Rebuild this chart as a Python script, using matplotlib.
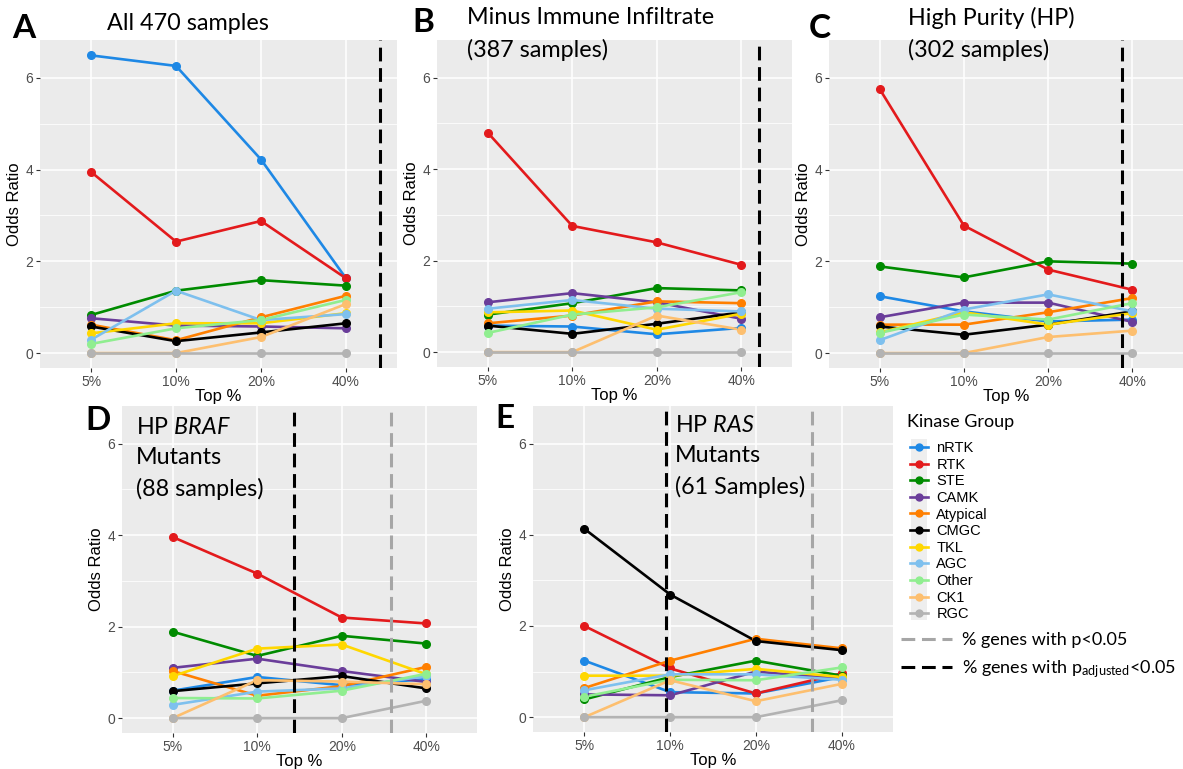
import numpy as np
import matplotlib.pyplot as plt
from matplotlib.lines import Line2D
from matplotlib.patches import Rectangle

plt.rcParams['font.family'] = ['Liberation Sans', 'DejaVu Sans']
plt.rcParams['mathtext.fontset'] = 'custom'
plt.rcParams['mathtext.rm'] = 'Lato'
plt.rcParams['mathtext.it'] = 'Lato:italic'

# Данные
top_labels = ['5%', '10%', '20%', '40%']
groups = ['nRTK', 'RTK', 'STE', 'CAMK', 'Atypical', 'CMGC', 'TKL', 'AGC', 'Other', 'CK1', 'RGC']
colors = ['#1E88E5', '#E31A1C', '#008B00', '#6A3D9A', '#FF7F00', '#000000',
          '#FFD700', '#7EC0EE', '#90EE90', '#FDBF6F', '#B3B3B3']

# odds ratio, one row per kinase group (same order as groups)
odds_all = [[6.49, 6.26, 4.22, 1.63], [3.95, 2.43, 2.88, 1.63], [0.83, 1.36, 1.59, 1.47],
            [0.76, 0.60, 0.58, 0.54], [0.62, 0.28, 0.78, 1.25], [0.58, 0.26, 0.45, 0.65],
            [0.43, 0.65, 0.65, 0.87], [0.29, 1.36, 0.72, 0.85], [0.20, 0.54, 0.72, 1.16],
            [0.00, 0.00, 0.35, 1.07], [0.00, 0.00, 0.00, 0.00]]
odds_minus = [[0.58, 0.56, 0.39, 0.53], [4.80, 2.76, 2.40, 1.91], [0.82, 1.07, 1.40, 1.35],
              [1.09, 1.29, 1.09, 0.73], [0.63, 0.80, 1.11, 1.07], [0.58, 0.40, 0.62, 0.87],
              [0.87, 0.91, 0.49, 0.84], [0.95, 1.14, 0.95, 0.89], [0.42, 0.82, 0.98, 1.31],
              [0.00, 0.00, 0.80, 0.49], [0.00, 0.00, 0.00, 0.00]]
odds_hp = [[1.24, 0.91, 0.69, 0.73], [5.76, 2.78, 1.82, 1.38], [1.89, 1.65, 2.00, 1.95],
           [0.78, 1.10, 1.10, 0.68], [0.62, 0.62, 0.89, 1.20], [0.58, 0.40, 0.62, 0.91],
           [0.45, 0.89, 0.62, 0.87], [0.28, 0.95, 1.28, 0.91], [0.44, 0.84, 0.73, 1.09],
           [0.00, 0.00, 0.35, 0.49], [0.00, 0.00, 0.00, 0.00]]
odds_braf = [[0.60, 0.90, 0.72, 0.85], [3.96, 3.16, 2.20, 2.07], [1.89, 1.36, 1.80, 1.63],
             [1.10, 1.30, 1.03, 0.79], [1.03, 0.49, 0.70, 1.12], [0.59, 0.76, 0.92, 0.65],
             [0.92, 1.52, 1.61, 0.96], [0.29, 0.58, 0.65, 0.92], [0.44, 0.43, 0.60, 0.97],
             [0.00, 0.83, 0.80, 0.74], [0.00, 0.00, 0.00, 0.38]]
odds_ras = [[1.24, 0.55, 0.52, 0.88], [2.00, 1.07, 0.52, 0.96], [0.39, 0.88, 1.24, 0.91],
            [0.50, 0.48, 1.00, 0.84], [0.64, 1.24, 1.72, 1.51], [4.13, 2.69, 1.67, 1.47],
            [0.91, 0.91, 1.06, 0.88], [0.59, 0.94, 0.94, 0.82], [0.45, 0.82, 0.81, 1.09],
            [0.00, 0.81, 0.35, 0.73], [0.00, 0.00, 0.00, 0.37]]

# положение пунктирных линий (в единицах оси x)
padj_cut = [4.40, 4.21, 3.88, 2.43, 1.95]
p_cut = [None, None, None, 3.58, 3.65]

W, H = 1183, 769
fig = plt.figure(figsize=(W / 100, H / 100), dpi=100)


def box(l, t, r, b):
    return [l / W, 1 - b / H, (r - l) / W, (b - t) / H]


boxes = [box(40, 40, 397, 368), box(437, 40, 792, 367), box(829, 40, 1183, 368),
         box(122, 406, 477, 733), box(533, 406, 893, 732)]
datasets = [odds_all, odds_minus, odds_hp, odds_braf, odds_ras]
x = np.arange(1, 5)
dash = (0, (4.5, 2.2))

handles = []
for i, (rect, data) in enumerate(zip(boxes, datasets)):
    ax = fig.add_axes(rect)
    ax.set_facecolor('#EBEBEB')
    for s in ax.spines.values():
        s.set_visible(False)
    ax.set_xlim(0.4, 4.6)
    ax.set_ylim(-0.325, 6.825)
    ax.set_xticks(x)
    ax.set_xticklabels(top_labels)
    ax.set_yticks([0, 2, 4, 6])
    ax.set_yticks([1, 3, 5], minor=True)
    ax.grid(True, which='major', color='white', lw=1.1)
    ax.grid(True, which='minor', axis='y', color='white', lw=0.55)
    ax.set_axisbelow(True)
    ax.tick_params(which='major', length=3, width=0.8, color='#333333',
                   labelsize=10, labelcolor='#4D4D4D', pad=2)
    ax.tick_params(which='minor', length=0)
    ax.set_xlabel('Top %', fontsize=12, labelpad=0)
    ax.set_ylabel('Odds Ratio', fontsize=12, labelpad=2)

    # сначала линии, потом точки
    for vals, c in zip(data, colors):
        ax.plot(x, vals, color=c, lw=1.9, zorder=3)
    for vals, c in zip(data, colors):
        ax.plot(x, vals, 'o', color=c, ms=5.5, zorder=4)

    ax.axvline(padj_cut[i], color='black', lw=2.2, ls=dash, zorder=5)
    if p_cut[i] is not None:
        ax.axvline(p_cut[i], color='#A6A6A6', lw=2.2, ls=dash, zorder=5)

for g, c in zip(groups, colors):
    handles.append(Line2D([], [], color=c, marker='o', lw=1.9, ms=5, label=g))

# буквы панелей и заголовки
tfont = 'Lato'
for lab, (px, py) in zip('ABCDE', [(24, 29), (423, 23), (820, 29), (98, 420), (505, 418)]):
    fig.text(px / W, 1 - py / H, lab, fontsize=24, fontweight='bold', family=tfont,
             ha='center', va='center')

ts = 16.8
fig.text(107 / W, 1 - 24 / H, 'All 470 samples', fontsize=ts, family=tfont, va='center')
fig.text(467 / W, 1 - 18 / H, 'Minus Immune Infiltrate', fontsize=ts, family=tfont, va='center')
fig.text(467 / W, 1 - 50 / H, '(387 samples)', fontsize=ts, family=tfont, va='center')
fig.text(908 / W, 1 - 18 / H, 'High Purity (HP)', fontsize=ts, family=tfont, va='center')
fig.text(908 / W, 1 - 50 / H, '(302 samples)', fontsize=ts, family=tfont, va='center')

fig.text(136 / W, 1 - 427 / H, r'HP $\mathit{BRAF}$', fontsize=ts, family=tfont, va='center')
fig.text(136 / W, 1 - 458 / H, 'Mutants', fontsize=ts, family=tfont, va='center')
fig.text(136 / W, 1 - 489 / H, '(88 samples)', fontsize=ts, family=tfont, va='center')
fig.text(675 / W, 1 - 425 / H, r'HP $\mathit{RAS}$', fontsize=ts, family=tfont, va='center')
fig.text(675 / W, 1 - 456 / H, 'Mutants', fontsize=ts, family=tfont, va='center')
fig.text(675 / W, 1 - 487 / H, '(61 Samples)', fontsize=ts, family=tfont, va='center')

# легенда
fig.text(907 / W, 1 - 422 / H, 'Kinase Group', fontsize=13, family=tfont, va='center')
fig.add_artist(Rectangle((911 / W, 1 - 620 / H), 16 / W, 181 / H,
                         transform=fig.transFigure, facecolor='#EEEEEE', edgecolor='none'))
fig.legend(handles=handles, loc='upper left', bbox_to_anchor=(910 / W, 1 - 441 / H),
           frameon=False, fontsize=10.5, handlelength=1.2, handletextpad=0.6,
           labelspacing=0.18, borderpad=0, borderaxespad=0)

line_handles = [Line2D([], [], color='#A6A6A6', lw=2.2, ls=dash),
                Line2D([], [], color='black', lw=2.2, ls=dash)]
line_labels = ['% genes with p<0.05', r'% genes with p$_{\mathregular{adjusted}}$<0.05']
fig.legend(handles=line_handles, labels=line_labels, loc='upper left',
           bbox_to_anchor=(901 / W, 1 - 632 / H), frameon=False,
           prop={'family': tfont, 'size': 13}, handlelength=2.8,
           handletextpad=0.6, labelspacing=0.6, borderpad=0, borderaxespad=0)

plt.savefig('out.png', dpi=100)
